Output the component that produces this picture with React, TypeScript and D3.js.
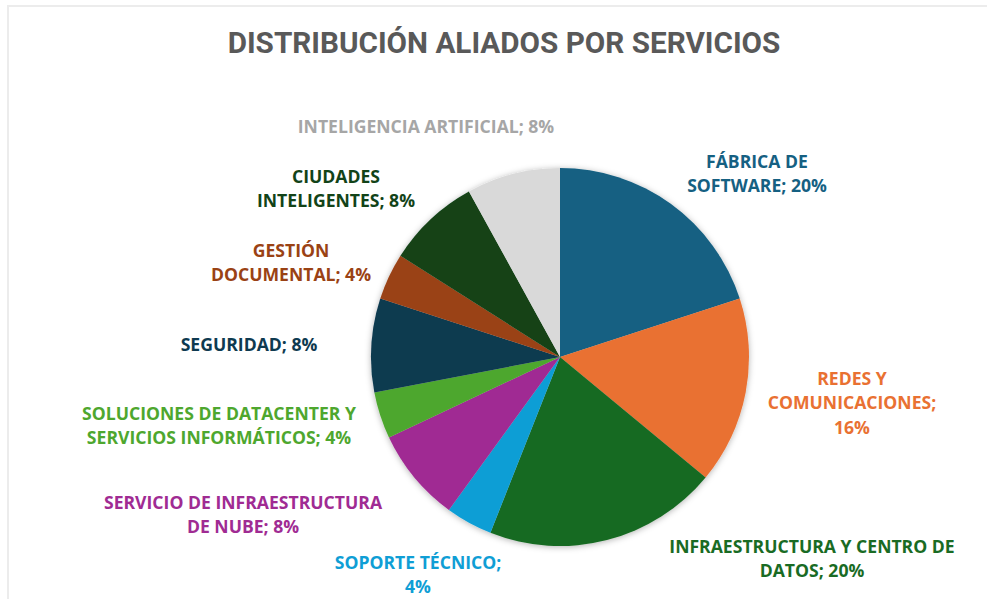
import { useEffect, useRef } from "react";
import * as d3 from "d3";

const categories = [
  "FÁBRICA DE SOFTWARE",
  "REDES Y COMUNICACIONES",
  "INFRAESTRUCTURA Y CENTRO DE DATOS",
  "SOPORTE TÉCNICO",
  "SERVICIO DE INFRAESTRUCTURA DE NUBE",
  "SOLUCIONES DE DATACENTER Y SERVICIOS INFORMÁTICOS",
  "SEGURIDAD",
  "GESTIÓN DOCUMENTAL",
  "CIUDADES INTELIGENTES",
  "INTELIGENCIA ARTIFICIAL",
];
const values = [20, 16, 20, 4, 8, 4, 8, 4, 8, 8];
// how each label is broken into lines
const labelLines = [
  ["FÁBRICA DE", "SOFTWARE; 20%"],
  ["REDES Y", "COMUNICACIONES;", "16%"],
  ["INFRAESTRUCTURA Y CENTRO DE", "DATOS; 20%"],
  ["SOPORTE TÉCNICO;", "4%"],
  ["SERVICIO DE INFRAESTRUCTURA", "DE NUBE; 8%"],
  ["SOLUCIONES DE DATACENTER Y", "SERVICIOS INFORMÁTICOS; 4%"],
  ["SEGURIDAD; 8%"],
  ["GESTIÓN", "DOCUMENTAL; 4%"],
  ["CIUDADES", "INTELIGENTES; 8%"],
  ["INTELIGENCIA ARTIFICIAL; 8%"],
];

const colors = [
  "#156082", "#E97132", "#196B24", "#0F9ED5", "#A02B93",
  "#4EA72E", "#0E3A50", "#9A4214", "#124318", "#D9D9D9",
];
const textColors = [
  "#156082", "#E97132", "#196B24", "#0F9ED5", "#A02B93",
  "#4EA72E", "#0E3A50", "#9A4214", "#124318", "#A6A6A6",
];
// label centres (first line), chart layout
const labelPos: [number, number][] = [
  [757, 161], [852, 378], [812, 546], [418, 562], [243, 502],
  [219, 413], [249, 344], [291, 250], [336, 176], [426, 126],
];

const W = 987;
const H = 599;
const cx = 560;
const cy = 357;
const R = 189;

export default function App() {
  const ref = useRef<SVGSVGElement>(null);

  useEffect(() => {
    const svg = d3.select(ref.current);
    svg.selectAll("*").remove();

    const defs = svg.append("defs");
    const f = defs.append("filter").attr("id", "shadow").attr("x", "-20%").attr("y", "-20%").attr("width", "140%").attr("height", "140%");
    f.append("feDropShadow").attr("dx", 0).attr("dy", 1).attr("stdDeviation", 3).attr("flood-color", "#000").attr("flood-opacity", 0.3);

    svg.append("rect").attr("width", W).attr("height", H).attr("fill", "#fff");
    // frame edges
    svg.append("rect").attr("x", 8).attr("y", 6).attr("width", W + 20).attr("height", H + 20)
      .attr("fill", "none").attr("stroke", "#ececec").attr("stroke-width", 2);

    svg.append("text")
      .attr("x", 504).attr("y", 42)
      .attr("text-anchor", "middle").attr("dominant-baseline", "central")
      .attr("font-family", "'Liberation Sans Narrow', 'Roboto', sans-serif")
      .attr("font-weight", 700).attr("font-size", 29.7)
      .attr("fill", "#595959")
      .text("DISTRIBUCIÓN ALIADOS POR SERVICIOS");

    const pie = d3.pie<number>().value((d) => d).sort(null);
    const arcs = pie(values);
    const arc = d3.arc<d3.PieArcDatum<number>>().innerRadius(0).outerRadius(R);

    const g = svg.append("g").attr("transform", `translate(${cx},${cy})`).attr("filter", "url(#shadow)");
    g.selectAll("path").data(arcs).join("path")
      .attr("d", arc)
      .attr("fill", (_, i) => colors[i]);

    const lab = svg.append("g")
      .attr("font-family", "'Open Sans', sans-serif")
      .attr("font-weight", 700)
      .attr("font-size", 17.6)
      .attr("text-anchor", "middle");
    categories.forEach((c, i) => {
      const t = lab.append("text")
        .attr("x", labelPos[i][0]).attr("y", labelPos[i][1])
        .attr("fill", textColors[i])
        .attr("dominant-baseline", "central")
        .attr("data-category", c);
      labelLines[i].forEach((line, j) => {
        t.append("tspan").attr("x", labelPos[i][0]).attr("dy", j === 0 ? 0 : 24.3).text(line);
      });
    });
  }, []);

  return (
    <svg ref={ref} width={W} height={H} style={{ position: "fixed", left: 0, top: 0 }} />
  );
}
